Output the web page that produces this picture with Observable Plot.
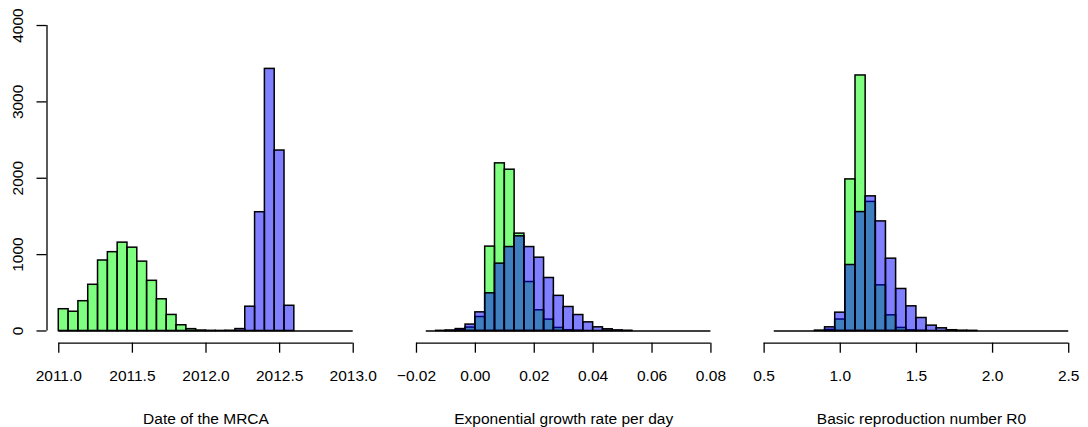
<!DOCTYPE html>
<html>
<head>
<meta charset="utf-8">
<script src="https://cdn.jsdelivr.net/npm/d3@7"></script>
<script src="https://cdn.jsdelivr.net/npm/@observablehq/plot@0.6"></script>
<style>
html, body { margin: 0; padding: 0; background: #fff; }
#chart { position: relative; width: 1088px; height: 427px; overflow: hidden; }
#chart svg { position: absolute; top: 0; overflow: visible; }
</style>
</head>
<body>
<div id="chart"></div>
<script>
// ---- Data (counts) ----
const countTicks = [0, 1000, 2000, 3000, 4000];

// Panel 1: Date of the MRCA (bins of 1/15 year from 2011.0)
const mrcaBreakStart = 2011;
const mrcaBinWidth = 1 / 15;
const mrcaGreen = [285, 252, 390, 605, 923, 1032, 1157, 1091, 908, 657, 415, 210, 75, 24, 6, 2, 1, 0, 0, 0, 0, 0, 0, 0, 0, 0, 0, 0, 0, 0];
const mrcaBlue  = [0, 0, 0, 0, 0, 0, 0, 0, 0, 0, 0, 0, 0, 0, 0, 0, 0, 3, 25, 318, 1555, 3432, 2363, 330, 0, 0, 0, 0, 0, 0];
const mrcaTicks = [2011, 2011.5, 2012, 2012.5, 2013];
const mrcaLabel = "Date of the MRCA";

// Panel 2: Exponential growth rate per day (bins of 1/300 from -5/300)
const growthBreakStart = -5 / 300;
const growthBinWidth = 1 / 300;
const growthGreen = [0, 0, 2, 10, 45, 183, 1105, 2195, 2112, 1275, 641, 271, 149, 40, 10, 3, 0, 0, 0, 0, 0, 0, 0, 0, 0, 0, 0, 0, 0];
const growthBlue  = [0, 2, 5, 25, 84, 244, 493, 882, 1099, 1240, 1099, 960, 694, 460, 314, 209, 113, 48, 22, 8, 3, 0, 0, 0, 0, 0, 0, 0, 0];
const growthTicks = [-0.02, 0, 0.02, 0.04, 0.06, 0.08];
const growthLabel = "Exponential growth rate per day";

// Panel 3: Basic reproduction number R0 (bins of 1/15 from 8.5/15)
const r0BreakStart = 8.5 / 15;
const r0BinWidth = 1 / 15;
const r0Green = [0, 0, 0, 0, 0, 15, 150, 1985, 3346, 1690, 598, 205, 40, 8, 2, 0, 0, 0, 0, 0, 0, 0, 0, 0, 0, 0, 0, 0, 0];
const r0Blue  = [0, 0, 0, 0, 5, 48, 240, 864, 1557, 1763, 1435, 947, 550, 323, 170, 70, 35, 10, 4, 2, 0, 0, 0, 0, 0, 0, 0, 0, 0];
const r0Ticks = [0.5, 1, 1.5, 2, 2.5];
const r0Label = "Basic reproduction number R0";

// ---- Layout ----
const H = 427;
const regionW = 318;
const yDomain = [-160, 4160];
const font = "'Liberation Sans', Arial, Helvetica, sans-serif";

function fmtMinus(digits) {
  return d => (d < 0 ? "\u2212" + (-d).toFixed(digits) : d.toFixed(digits));
}

function panel({svgLeft, svgWidth, regionLeft, xlim, ticks, fmt, breakStart, binWidth, green, blue, label, yAxis}) {
  const pad = 0.04 * (xlim[1] - xlim[0]);
  const bins = green.map((g, i) => ({
    x1: breakStart + i * binWidth,
    x2: breakStart + (i + 1) * binWidth,
    green: g,
    blue: blue[i]
  }));
  const marks = [
    Plot.ruleY([0], {x1: bins[0].x1, x2: bins[bins.length - 1].x2, stroke: "black", strokeWidth: 1.5}),
    Plot.rectY(bins, {x1: "x1", x2: "x2", y: "green", fill: "#00ff00", fillOpacity: 0.5, stroke: "black", strokeWidth: 1.5}),
    Plot.rectY(bins, {x1: "x1", x2: "x2", y: "blue", fill: "#0000ff", fillOpacity: 0.5, stroke: "black", strokeWidth: 1.5}),
    Plot.ruleY([yDomain[0]], {x1: ticks[0], x2: ticks[ticks.length - 1], stroke: "black", strokeWidth: 1.3}),
    Plot.axisX({ticks, tickFormat: fmt, tickSize: 10, tickPadding: 17, strokeWidth: 1.3, label: null, fill: "black"}),
    Plot.text([label], {frameAnchor: "bottom", dy: 75.6, lineAnchor: "middle", fill: "black"})
  ];
  if (yAxis) {
    marks.push(
      Plot.ruleX([xlim[0] - pad], {y1: countTicks[0], y2: countTicks[countTicks.length - 1], stroke: "black", strokeWidth: 1.3}),
      Plot.axisY({ticks: countTicks, tickFormat: d => String(d), tickSize: 10, tickPadding: 14, tickRotate: -90, strokeWidth: 1.3, label: null, fill: "black"})
    );
  }
  const svg = Plot.plot({
    width: svgWidth,
    height: H,
    marginLeft: regionLeft - svgLeft,
    marginRight: svgLeft + svgWidth - (regionLeft + regionW),
    marginTop: 12.8,
    marginBottom: 84.3,
    x: {domain: [xlim[0] - pad, xlim[1] + pad]},
    y: yAxis ? {domain: yDomain} : {domain: yDomain, axis: null},
    style: {fontFamily: font, fontSize: "15.5px", overflow: "visible", background: "transparent", color: "black"},
    marks
  });
  svg.style.left = svgLeft + "px";
  document.getElementById("chart").appendChild(svg);
}

panel({svgLeft: 0, svgWidth: 370, regionLeft: 46.5, xlim: [mrcaTicks[0], mrcaTicks[mrcaTicks.length - 1]],
  ticks: mrcaTicks, fmt: d => d.toFixed(1), breakStart: mrcaBreakStart, binWidth: mrcaBinWidth,
  green: mrcaGreen, blue: mrcaBlue, label: mrcaLabel, yAxis: true});

panel({svgLeft: 370, svgWidth: 360, regionLeft: 404.2, xlim: [growthTicks[0], growthTicks[growthTicks.length - 1]],
  ticks: growthTicks, fmt: fmtMinus(2), breakStart: growthBreakStart, binWidth: growthBinWidth,
  green: growthGreen, blue: growthBlue, label: growthLabel, yAxis: false});

panel({svgLeft: 730, svgWidth: 358, regionLeft: 762, xlim: [r0BreakStart, r0BreakStart + r0Green.length * r0BinWidth],
  ticks: r0Ticks, fmt: d => d.toFixed(1), breakStart: r0BreakStart, binWidth: r0BinWidth,
  green: r0Green, blue: r0Blue, label: r0Label, yAxis: false});
</script>
</body>
</html>
